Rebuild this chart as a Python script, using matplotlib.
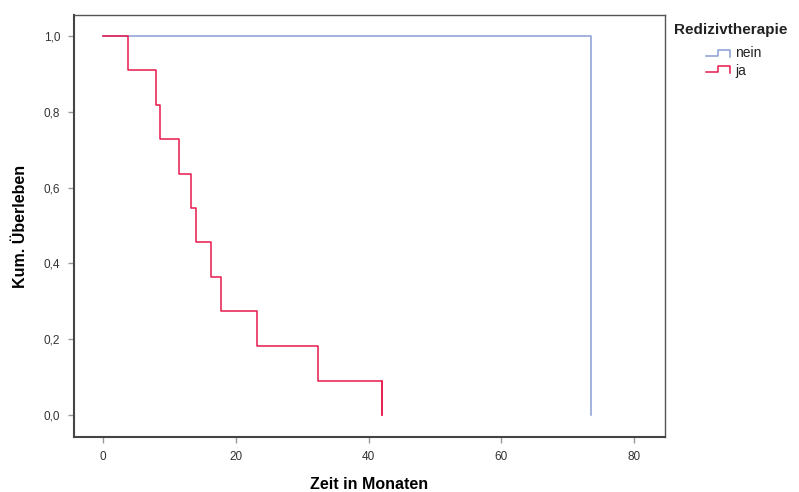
import matplotlib
matplotlib.use("Agg")
import matplotlib.pyplot as plt
from matplotlib.lines import Line2D
import numpy as np

plt.rcParams["font.family"] = ["Liberation Sans", "DejaVu Sans"]

# Data (Kaplan-Meier step curves)
nein_times = [0, 73.5, 73.5]
nein_surv = [1.0, 1.0, 0.0]

ja_event_times = [3.8, 7.9, 8.6, 11.5, 13.2, 14.0, 16.2, 17.7, 23.2, 32.4, 42.0]
ja_surv = [0.909, 0.818, 0.727, 0.636, 0.545, 0.455, 0.364, 0.273, 0.182, 0.091, 0.0]

xticks = [0, 20, 40, 60, 80]
yticks = [0.0, 0.2, 0.4, 0.6, 0.8, 1.0]
ytick_labels = ["0,0", "0,2", "0,4", "0,6", "0,8", "1,0"]

blue = "#8A9CD6"
red = "#E8194B"

fig = plt.figure(figsize=(7.99, 4.92), dpi=100)
ax = fig.add_axes([74/799, 1-437/492, (665-74)/799, (437-15)/492])

# nein curve
ax.plot(nein_times, nein_surv, color=blue, lw=1.1, drawstyle="steps-post")

# ja curve
xs = [0] + ja_event_times
ys = [1.0] + ja_surv
ax.step(xs, ys, where="post", color=red, lw=1.1)
ax.plot([ja_event_times[-1], ja_event_times[-1]], [ja_surv[-2], ja_surv[-1]], color=red, lw=1.1)

ax.set_xlim(-4.4, 84.7)
ax.set_ylim(-0.058, 1.055)
ax.set_xticks(xticks)
ax.set_xticklabels([str(t) for t in xticks])
ax.set_yticks(yticks)
ax.set_yticklabels(ytick_labels)
ax.tick_params(direction="out", length=4, width=1, color="#999999",
               labelsize=8.5, labelcolor="#333333", pad=6)
for s in ["left", "bottom"]:
    ax.spines[s].set_color("#444444")
    ax.spines[s].set_linewidth(1.5)
for s in ["top", "right"]:
    ax.spines[s].set_color("#555555")
    ax.spines[s].set_linewidth(1.0)

ax.set_xlabel("Zeit in Monaten", fontsize=11.5, fontweight="bold", labelpad=10)
ax.set_ylabel("Kum. Überleben", fontsize=11.5, fontweight="bold", labelpad=11)

# legend (drawn manually with step handles)
fig.text(674/799, 1-30/492, "Redizivtherapie", fontsize=11, fontweight="bold",
         ha="left", va="center", color="#222222")

def handle(y_low, y_high, color):
    xs_h = np.array([706, 718, 718, 730, 730]) / 799
    ys_h = 1 - np.array([y_low, y_low, y_high, y_high, y_low + 1]) / 492
    fig.add_artist(Line2D(xs_h, ys_h, color=color, lw=1.1, transform=fig.transFigure))

handle(56, 50, blue)
handle(72, 66, red)
fig.text(735/799, 1-53/492, "nein", fontsize=10, ha="left", va="center", color="#222222")
fig.text(735/799, 1-71/492, "ja", fontsize=10, ha="left", va="center", color="#222222")

fig.savefig("out.png", dpi=100, facecolor="white")
